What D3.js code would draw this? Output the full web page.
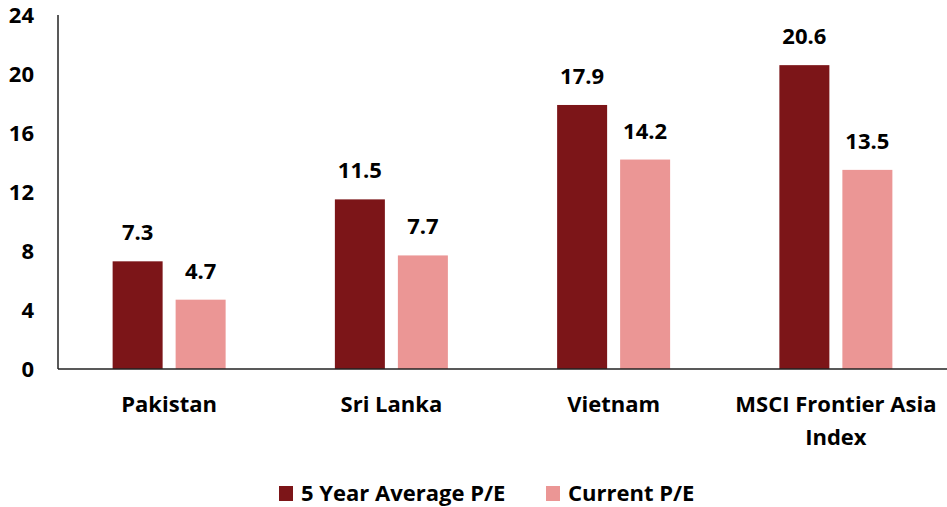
<!DOCTYPE html>
<html>
<head>
<meta charset="utf-8">
<script src="https://cdn.jsdelivr.net/npm/d3@7"></script>
<style>
  html, body { margin: 0; padding: 0; background: #fff; }
  text { font-family: "Open Sans", Lato, sans-serif; font-weight: bold; fill: #000; }
</style>
</head>
<body>
<svg id="chart" width="947" height="507"></svg>
<script>
const categories = ["Pakistan", "Sri Lanka", "Vietnam", "MSCI Frontier Asia Index"];
const categoryLines = [["Pakistan"], ["Sri Lanka"], ["Vietnam"], ["MSCI Frontier Asia", "Index"]];
const seriesNames = ["5 Year Average P/E", "Current P/E"];
const fiveYearAvg = [7.3, 11.5, 17.9, 20.6];
const currentPE = [4.7, 7.7, 14.2, 13.5];
const yTicks = [0, 4, 8, 12, 16, 20, 24];
const colors = ["#7C1518", "#EB9695"];

(function () {
const svg = d3.select("#chart");
const mLeft = 58, mRight = 947, mTop = 15, mBottom = 369;
const FS = 22;

const x = d3.scaleBand().domain(categories).range([mLeft, mRight]).padding(0);
const y = d3.scaleLinear().domain([0, 24]).range([mBottom, mTop]);
const barW = 50, gap = 13;

const series = [fiveYearAvg, currentPE];

// Y tick labels
const yAxis = d3.axisLeft(y).tickValues(yTicks).tickSize(0).tickPadding(0).tickFormat(d3.format("d"));
const yg = svg.append("g").attr("transform", `translate(34,0)`).call(yAxis);
yg.select(".domain").remove();
yg.selectAll("text").attr("font-size", FS).attr("font-family", "'Open Sans', sans-serif").attr("font-weight", "bold").attr("fill", "#000").attr("dy", "0.35em");

// bars
series.forEach((vals, si) => {
  const off = si === 0 ? -(barW + gap / 2) : gap / 2;
  svg.append("g").selectAll("rect").data(vals).join("rect")
    .attr("x", (d, i) => x(categories[i]) + x.bandwidth() / 2 + off)
    .attr("y", d => y(d))
    .attr("width", barW)
    .attr("height", d => y(0) - y(d))
    .attr("fill", colors[si]);
  svg.append("g").selectAll("text").data(vals).join("text")
    .attr("x", (d, i) => x(categories[i]) + x.bandwidth() / 2 + off + barW / 2)
    .attr("y", d => y(d) - 21)
    .attr("text-anchor", "middle")
    .attr("font-size", FS)
    .text(d => d3.format(".1f")(d));
});

// axes lines
const xAxis = d3.axisBottom(x).tickSize(0).tickFormat("");
const xg = svg.append("g").attr("transform", `translate(0,${mBottom})`).call(xAxis);
xg.select(".domain").attr("stroke", "#222").attr("stroke-width", 1.5).attr("d", `M${mLeft},0H${mRight}`);
svg.append("line").attr("x1", mLeft).attr("x2", mLeft).attr("y1", mTop).attr("y2", mBottom)
  .attr("stroke", "#222").attr("stroke-width", 1.5);

// category labels
categories.forEach((c, i) => {
  const t = svg.append("text")
    .attr("x", x(c) + x.bandwidth() / 2)
    .attr("y", 412)
    .attr("text-anchor", "middle")
    .attr("font-size", FS);
  categoryLines[i].forEach((ln, j) => {
    t.append("tspan").attr("x", x(c) + x.bandwidth() / 2).attr("y", 412 + j * 33).text(ln);
  });
});

// legend
const legendItems = [
  { name: seriesNames[0], color: colors[0], x: 279 },
  { name: seriesNames[1], color: colors[1], x: 546 }
];
legendItems.forEach(it => {
  svg.append("rect").attr("x", it.x).attr("y", 486).attr("width", 14).attr("height", 15).attr("fill", it.color);
  svg.append("text").attr("x", it.x + 22).attr("y", 501).attr("font-size", FS).text(it.name);
});
})();
</script>
</body>
</html>
